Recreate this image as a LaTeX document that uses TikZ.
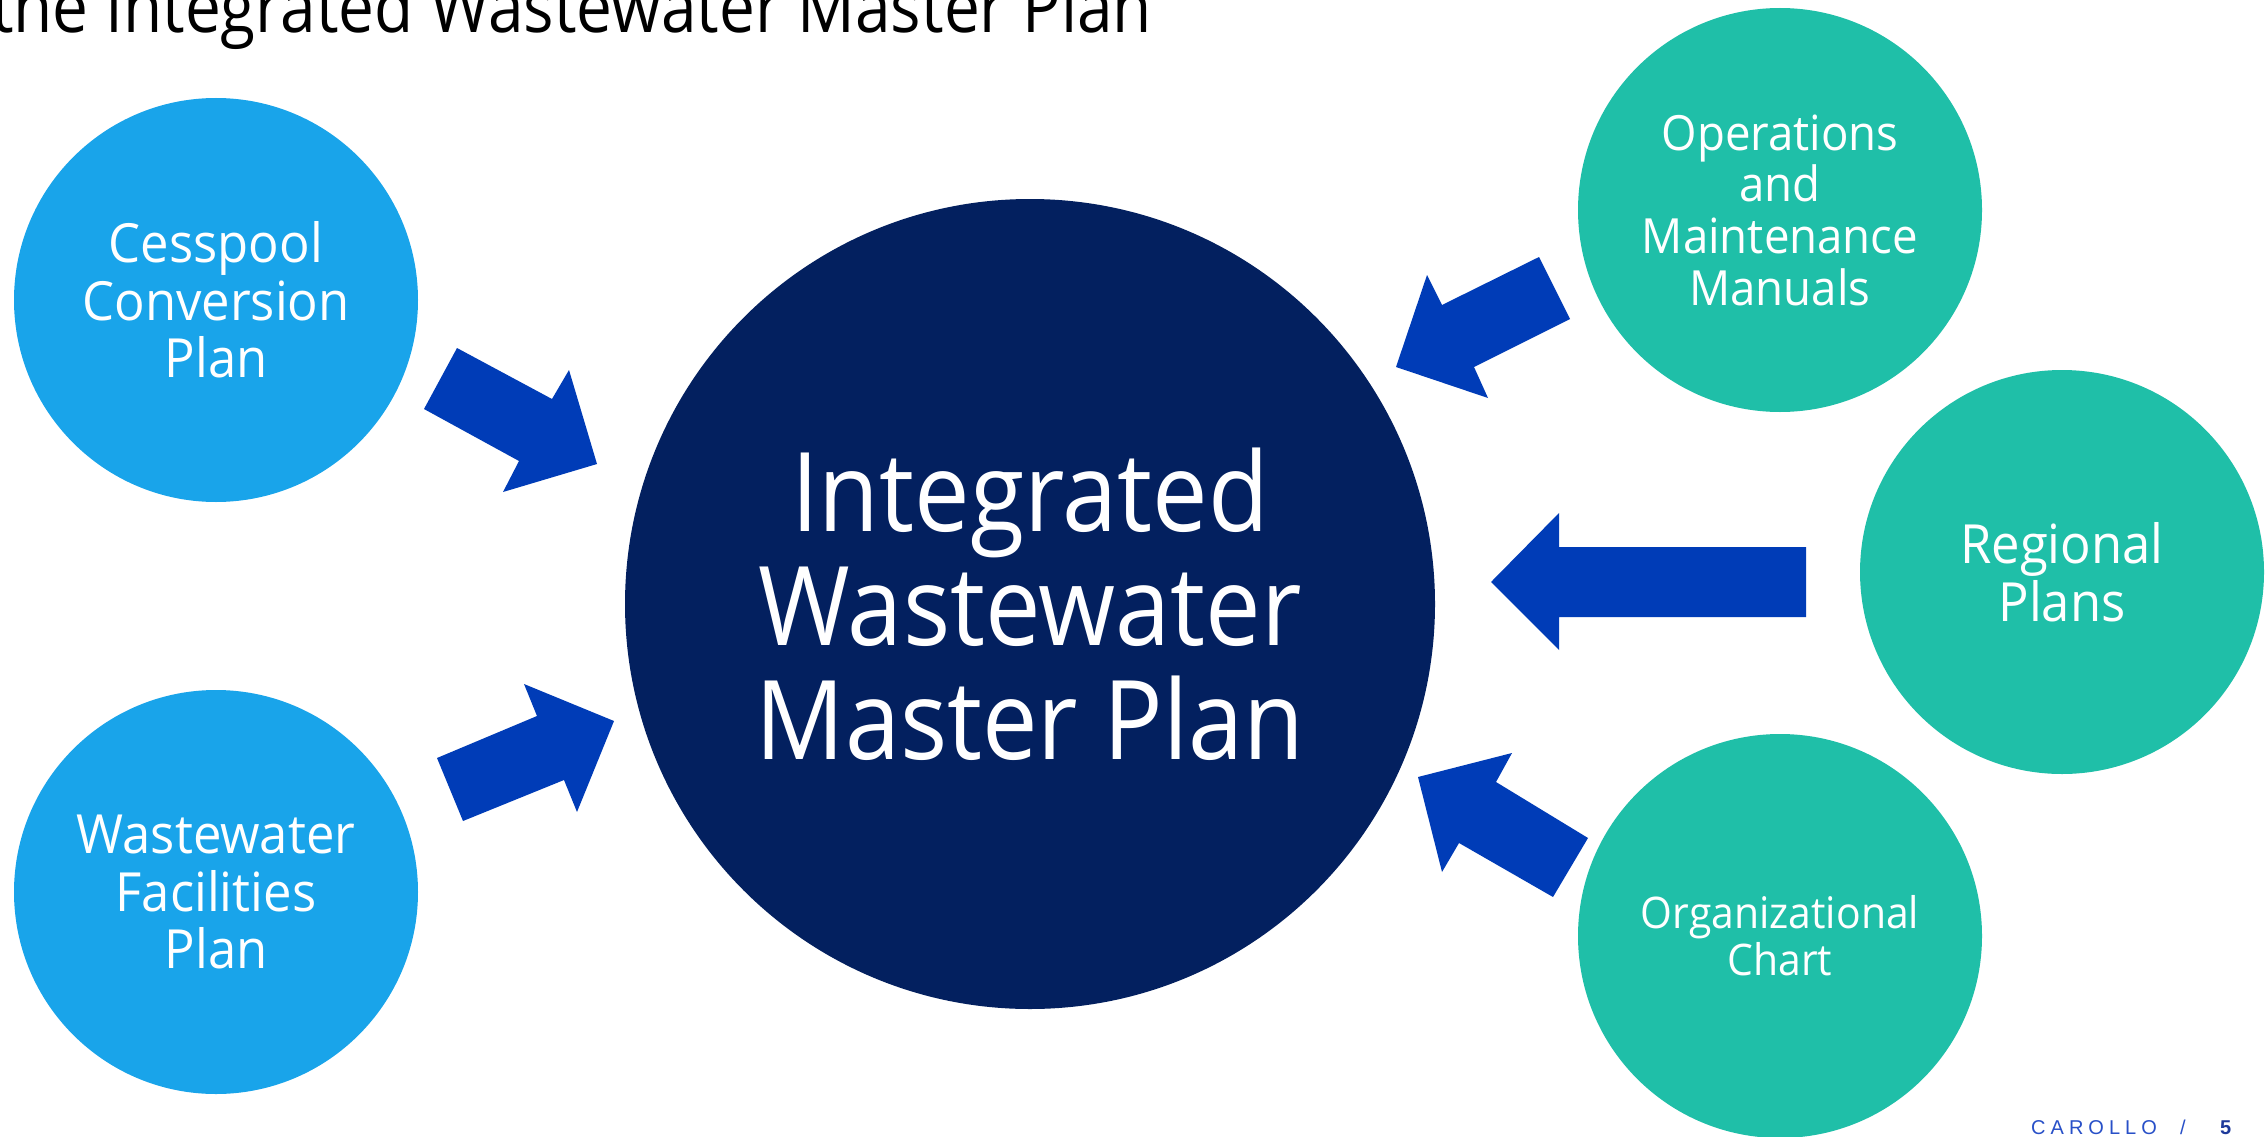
\documentclass[tikz,border=0pt]{standalone}
\usepackage{fontspec}
\setmainfont{Open Sans}[FakeStretch=0.9]
\newfontfamily\sidefam{Open Sans}[FakeStretch=0.94]
\newfontfamily\footfont{Liberation Sans}
\definecolor{lightblue}{HTML}{19A4EA}
\definecolor{tealc}{HTML}{1FBFA8}
\definecolor{navyc}{HTML}{03205F}
\definecolor{arrowblue}{HTML}{003CB7}
\definecolor{footblue}{HTML}{2850C8}
\definecolor{footnavy}{HTML}{1E3A9A}
\begin{document}
\begin{tikzpicture}[x=1pt,y=-1pt,
  bubble/.style={circle, minimum size=404pt, inner sep=0pt, text=white, align=center},
  bigbubble/.style={circle, minimum size=810pt, inner sep=0pt, text=white, align=center, fill=navyc},
  sidefont/.style={font=\sidefam\fontsize{54}{57.5}\selectfont},
  blockarrow/.style={fill=arrowblue, draw=none},
  foot/.style={anchor=base west, inner sep=0pt, font=\footfont\fontsize{20}{24}\selectfont}]
\useasboundingbox (0,0) rectangle (2266,1137);
\fill[white] (0,0) rectangle (2266,1137);

% title
\node[anchor=base west, inner sep=0pt, font=\fontsize{71}{75}\selectfont] (title) at (-9,33) {the Integrated Wastewater Master Plan};

% circles
\node[bubble, fill=lightblue, sidefont] (cesspool) at (216,300) {Cesspool\\Conversion\\Plan};
\node[bubble, fill=lightblue, sidefont] (wwfp) at (216,892) {Wastewater\\Facilities\\Plan};
\node[bigbubble, font=\fontsize{110}{114}\selectfont] (iwmp) at (1030,604) {Integrated\\Wastewater\\Master Plan};
\node[bubble, fill=tealc, font=\sidefam\fontsize{48.5}{51.7}\selectfont] (om) at (1780,210) {Operations\\and\\Maintenance\\Manuals};
\node[bubble, fill=tealc, sidefont] (regional) at (2062,572) {Regional\\Plans};
\node[bubble, fill=tealc, font=\sidefam\fontsize{43.5}{47}\selectfont] (org) at (1780,936) {Organizational\\Chart};

% block arrows
\fill[blockarrow] (457,348) -- (552,399) -- (569,370) -- (597,464) -- (503,492) -- (519,461) -- (424,409) -- cycle;
\fill[blockarrow] (437,758) -- (537,716) -- (524,684) -- (614,721) -- (577,812) -- (564,780) -- (463,821) -- cycle;
\fill[blockarrow] (1539,257) -- (1570,319) -- (1474,367) -- (1488,398) -- (1396,367) -- (1427,275) -- (1442,305) -- cycle;
\fill[blockarrow] (1491,582) -- (1559,513) -- (1559,547) -- (1806,547) -- (1806,617) -- (1559,617) -- (1559,650) -- cycle;
\fill[blockarrow] (1418,777) -- (1512,753) -- (1496,782) -- (1588,838) -- (1553,897) -- (1459,843) -- (1442,872) -- cycle;

% footer
\node[foot, text=footblue, font=\footfont\fontsize{20}{24}\selectfont\addfontfeature{LetterSpace=25}] (carollo) at (2031,1134) {CAROLLO};
\node[foot, text=footblue] (slash) at (2180,1134) {/};
\node[foot, text=footnavy, font=\footfont\bfseries\fontsize{20}{24}\selectfont] (pagenum) at (2220,1134) {5};
\end{tikzpicture}
\end{document}
